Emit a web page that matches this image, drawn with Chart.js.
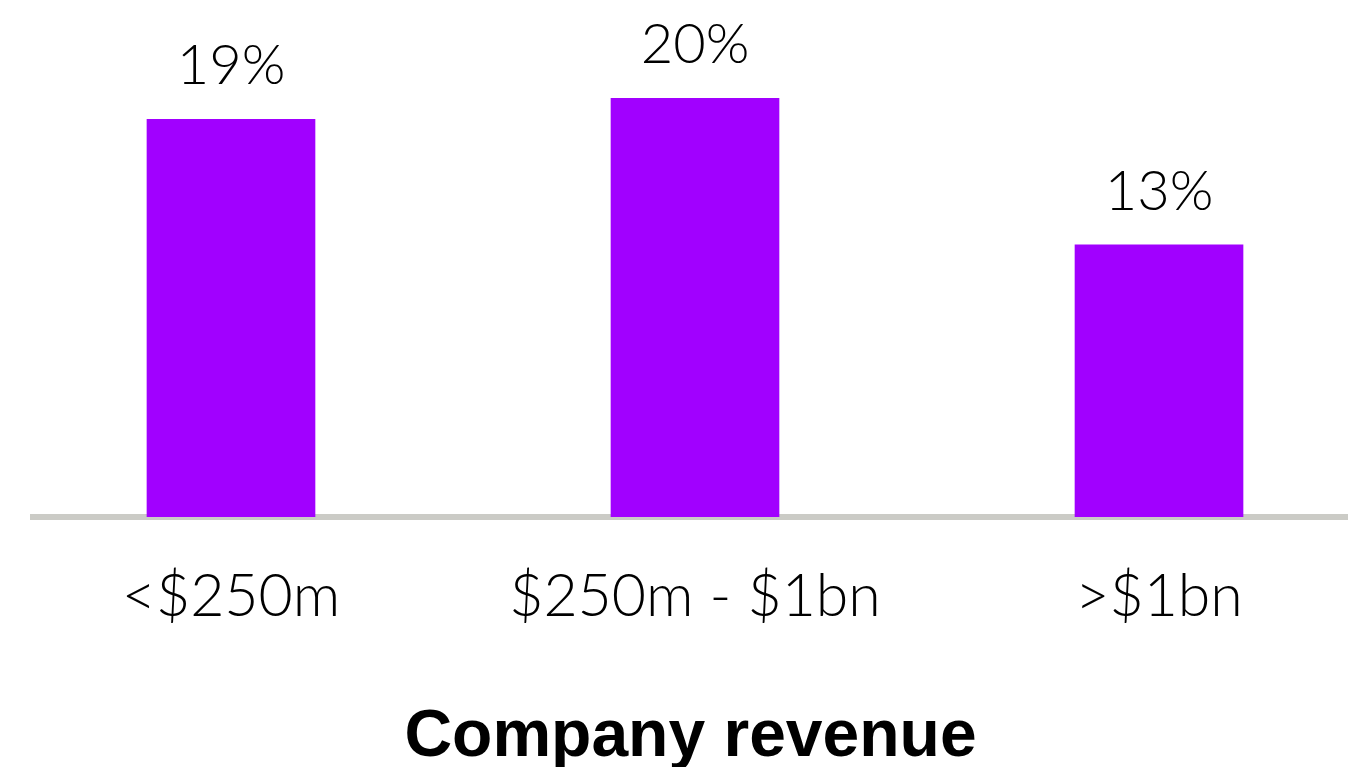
<!DOCTYPE html>
<html lang="en">
<head>
  <meta charset="UTF-8">
  <title>Company revenue</title>
  <script src="https://cdn.jsdelivr.net/npm/chart.js"></script>
  <style>
    body { margin: 0; background: #fff; overflow: hidden; }
  </style>
</head>
<body>
  <canvas id="revenueChart" width="1348" height="767"></canvas>

  <script>
    const categories = ['<$250m', '$250m - $1bn', '>$1bn'];
    const shares = [19, 20, 13];

    const lightFont = 'Lato';

    // prints "NN%" above each bar
    const valueLabels = {
      id: 'valueLabels',
      afterDatasetsDraw(chart) {
        const ctx = chart.ctx;
        ctx.save();
        ctx.font = '300 56px ' + lightFont + ', sans-serif';
        ctx.fillStyle = '#000';
        ctx.textAlign = 'center';
        ctx.textBaseline = 'alphabetic';
        chart.getDatasetMeta(0).data.forEach((bar, i) => {
          ctx.fillText(shares[i] + '%', bar.x, bar.y - 35);
        });
        ctx.restore();
      }
    };

    const ctx = document.getElementById('revenueChart').getContext('2d');
    new Chart(ctx, {
      type: 'bar',
      data: {
        datasets: [{
          data: shares.map((v, i) => ({ x: i, y: v })),
          backgroundColor: '#a100ff',
          barThickness: 168
        }]
      },
      options: {
        responsive: false,
        animation: false,
        layout: { padding: { left: 33, right: 0, top: 0, bottom: 0 } },
        plugins: { legend: { display: false }, tooltip: { enabled: false } },
        scales: {
          x: {
            type: 'linear',
            offset: false,
            min: -0.4267,
            max: 2.4073,
            z: 1,
            grid: { display: false, drawTicks: false },
            border: { display: true, color: '#cbcbc6', width: 6 },
            afterBuildTicks: s => { s.ticks = categories.map((_, i) => ({ value: i })); },
            afterFit: s => { s.height = 250; },
            ticks: {
              padding: 45,
              autoSkip: false,
              maxRotation: 0,
              color: '#000',
              font: { family: lightFont, size: 59, weight: 300 },
              callback: v => categories[v]
            },
            title: {
              display: true,
              text: 'Company revenue',
              color: '#000',
              font: { family: '"Liberation Sans", Arial, sans-serif', size: 66, weight: 'bold', lineHeight: 0.9 },
              padding: { top: 0, bottom: 0 }
            }
          },
          y: {
            display: false,
            min: 0,
            max: 24.7
          }
        }
      },
      plugins: [valueLabels]
    });
  </script>
</body>
</html>
